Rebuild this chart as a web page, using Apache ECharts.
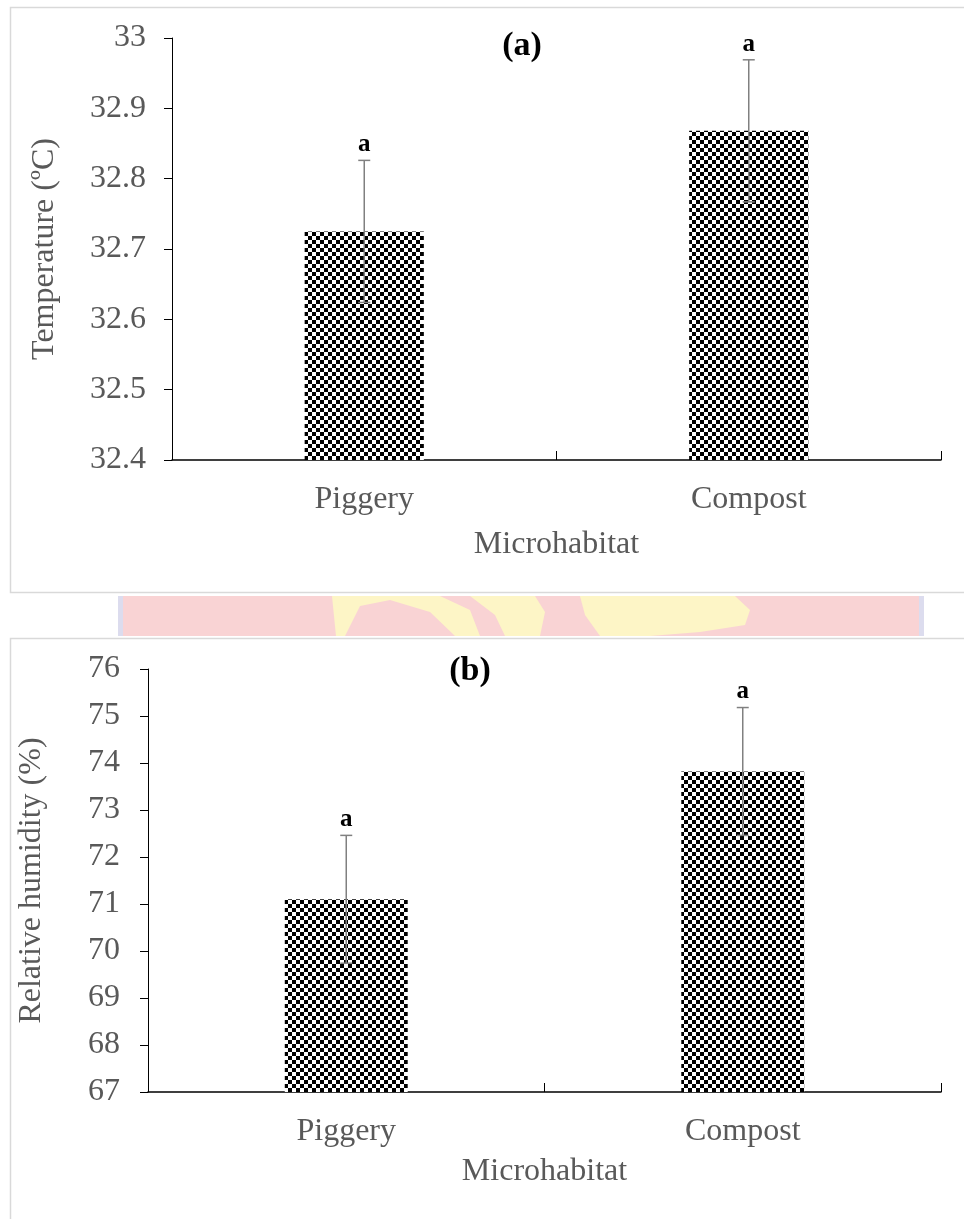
<!DOCTYPE html>
<html>
<head>
<meta charset="utf-8">
<script src="https://cdn.jsdelivr.net/npm/echarts@6/dist/echarts.min.js"></script>
<style>
html,body{margin:0;padding:0;background:#fff;}
#chart{width:964px;height:1219px;}
</style>
</head>
<body>
<div id="chart"></div>
<script>
// ---- data ----
var categories = ['Piggery', 'Compost'];
var tempMean = [32.725, 32.868];
var tempErr = [0.101, 0.101];
var tempLetters = ['a', 'a'];
var humMean = [71.1, 73.82];
var humErr = [1.36, 1.36];
var humLetters = ['a', 'a'];
var tempTicks = { min: 32.4, max: 33, interval: 0.1 };
var humTicks = { min: 67, max: 76, interval: 1 };

// checker pattern
var pc = document.createElement('canvas');
pc.width = 8; pc.height = 8;
var pctx = pc.getContext('2d');
pctx.fillStyle = '#fff'; pctx.fillRect(0, 0, 8, 8);
pctx.fillStyle = '#000';
pctx.fillRect(0, 0, 4, 4);
pctx.fillRect(4, 4, 4, 4);
var checker = { image: pc, repeat: 'repeat' };

var FONT = '"Liberation Serif", "Times New Roman", serif';
var GREY = '#595959';
var FS = 32;

function errData(means, errs, letters) {
  return means.map(function (m, i) { return [i, m, errs[i], letters[i]]; });
}
function errRender(params, api) {
  var i = api.value(0), m = api.value(1), e = api.value(2);
  var letter = params.data ? params.data[3] : 'a';
  var top = api.coord([i, m + e]);
  var bot = api.coord([i, m - e]);
  var hw = 6;
  return {
    type: 'group',
    children: [
      { type: 'line', shape: { x1: top[0], y1: top[1], x2: bot[0], y2: bot[1] }, style: { stroke: '#808080', lineWidth: 1.5 } },
      { type: 'line', shape: { x1: top[0] - hw, y1: top[1], x2: top[0] + hw, y2: top[1] }, style: { stroke: '#808080', lineWidth: 1.5 } },
      { type: 'line', shape: { x1: bot[0] - hw, y1: bot[1], x2: bot[0] + hw, y2: bot[1] }, style: { stroke: '#808080', lineWidth: 1.5 } },
      { type: 'text', style: { text: letter, x: top[0], y: top[1] - 3, textAlign: 'center', textVerticalAlign: 'bottom', fontFamily: FONT, fontWeight: 'bold', fontSize: 25, fill: '#000' } }
    ]
  };
}

function xAxisCfg(gi, labelMargin, nameGap) {
  return {
    type: 'category', gridIndex: gi, data: categories,
    axisLine: { lineStyle: { color: '#000', width: 1.5 } },
    axisTick: { show: true, inside: true, length: 9, lineStyle: { color: '#000', width: 1 } },
    axisLabel: { fontFamily: FONT, fontSize: FS, color: GREY, margin: labelMargin },
    name: 'Microhabitat', nameLocation: 'middle', nameGap: nameGap,
    nameTextStyle: { fontFamily: FONT, fontSize: FS, color: GREY },
    splitLine: { show: false }
  };
}
function yAxisCfg(gi, ticks, name, labelMargin, nameGap, decimals) {
  return {
    type: 'value', gridIndex: gi, min: ticks.min, max: ticks.max, interval: ticks.interval,
    axisLine: { show: true, lineStyle: { color: '#000', width: 1 } },
    axisTick: { show: true, inside: false, length: 8, lineStyle: { color: '#000' } },
    axisLabel: { fontFamily: FONT, fontSize: FS, color: GREY, margin: labelMargin,
      formatter: function (v) { return decimals ? (Math.round(v * 10) / 10).toString() : Math.round(v).toString(); } },
    splitLine: { show: false },
    name: name, nameLocation: 'middle', nameGap: nameGap,
    nameTextStyle: { fontFamily: FONT, fontSize: FS, color: GREY }
  };
}

var Y = '#fdf5c6';
var chart = echarts.init(document.getElementById('chart'), null, { renderer: 'canvas' });
chart.setOption({
  backgroundColor: '#fff',
  animation: false,
  grid: [
    { left: 172, top: 38, right: 23, height: 422 },
    { left: 148, top: 669, right: 23, height: 423 }
  ],
  xAxis: [xAxisCfg(0, 24, 69), xAxisCfg(1, 24, 64)],
  yAxis: [
    yAxisCfg(0, tempTicks, 'Temperature (\u00BAC)', 26, 111, true),
    yAxisCfg(1, humTicks, 'Relative humidity (%)', 28, 100, false)
  ],
  graphic: [
    { type: 'rect', shape: { x: 10.5, y: 7.5, width: 1000, height: 585 }, style: { fill: 'none', stroke: '#d9d9d9', lineWidth: 1.5 }, z: -10 },
    { type: 'rect', shape: { x: 120, y: 596, width: 802, height: 40 }, style: { fill: '#f9d3d4' }, z: -10 },
    { type: 'rect', shape: { x: 118, y: 596, width: 5, height: 40 }, style: { fill: '#dcdcee' }, z: -9 },
    { type: 'rect', shape: { x: 919, y: 596, width: 5, height: 40 }, style: { fill: '#dcdcee' }, z: -9 },
    { type: 'polygon', shape: { points: [[332, 596], [440, 596], [470, 610], [480, 636], [455, 636], [430, 612], [390, 600], [360, 606], [345, 636], [336, 636]] }, style: { fill: Y }, z: -9 },
    { type: 'polygon', shape: { points: [[470, 596], [535, 596], [545, 612], [540, 636], [505, 636], [495, 615]] }, style: { fill: Y }, z: -9 },
    { type: 'polygon', shape: { points: [[580, 596], [735, 596], [750, 610], [745, 625], [700, 632], [650, 636], [600, 636], [585, 615]] }, style: { fill: Y }, z: -9 },
    { type: 'rect', shape: { x: 10.5, y: 638.5, width: 1000, height: 700 }, style: { fill: 'none', stroke: '#d9d9d9', lineWidth: 1.5 }, z: -10 },
    { type: 'text', style: { text: '(a)', x: 522, y: 46, textAlign: 'center', textVerticalAlign: 'middle', fontFamily: FONT, fontWeight: 'bold', fontSize: 34, fill: '#000' } },
    { type: 'text', style: { text: '(b)', x: 470, y: 671, textAlign: 'center', textVerticalAlign: 'middle', fontFamily: FONT, fontWeight: 'bold', fontSize: 34, fill: '#000' } }
  ],
  series: [
    { type: 'bar', xAxisIndex: 0, yAxisIndex: 0, data: tempMean, barWidth: '31%', itemStyle: { color: checker }, z: 2 },
    { type: 'custom', xAxisIndex: 0, yAxisIndex: 0, data: errData(tempMean, tempErr, tempLetters), renderItem: errRender, z: 5 },
    { type: 'bar', xAxisIndex: 1, yAxisIndex: 1, data: humMean, barWidth: '31%', itemStyle: { color: checker }, z: 2 },
    { type: 'custom', xAxisIndex: 1, yAxisIndex: 1, data: errData(humMean, humErr, humLetters), renderItem: errRender, z: 5 }
  ]
});
</script>
</body>
</html>
